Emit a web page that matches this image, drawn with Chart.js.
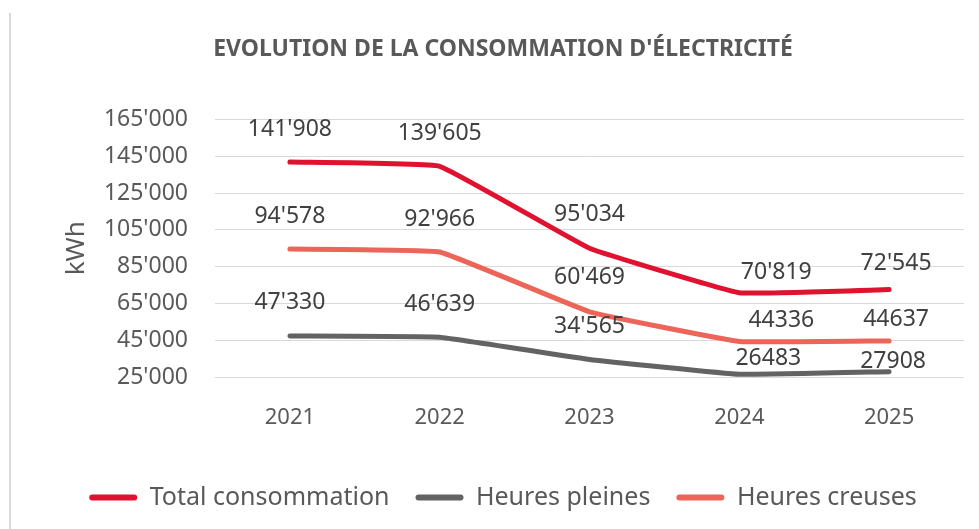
<!DOCTYPE html>
<html>
<head>
<meta charset="utf-8">
<script src="https://cdn.jsdelivr.net/npm/chart.js@4.4.1/dist/chart.umd.min.js"></script>
<style>
  html, body { margin: 0; padding: 0; background: #fff; overflow: hidden; }
  #cadre { position: absolute; left: 9px; top: 13px; width: 2px; height: 530px; background: #d9d9d9; }
  #zone { position: absolute; left: 42px; top: 0; width: 954px; height: 529px; }
</style>
</head>
<body>
<div id="cadre"></div>
<div id="zone"><canvas id="graphe"></canvas></div>
<script>
// donnees
const annees = ['2021', '2022', '2023', '2024', '2025'];
const totalConso = [141908, 139605, 95034, 70819, 72545];
const heuresPleines = [47330, 46639, 34565, 26483, 27908];
const heuresCreuses = [94578, 92966, 60469, 44336, 44637];
const graduations = { min: 25000, max: 165000, pas: 20000 };

const police = "'Noto Sans', 'DejaVu Sans', sans-serif";

function avecApostrophe(v) {
  return String(Math.round(v)).replace(/\B(?=(\d{3})+(?!\d))/g, "'");
}

// etiquettes de donnees (deplacees a la main dans l'original pour 2024-2025)
const etiquettes = {
  id: 'etiquettes',
  afterDatasetsDraw(chart, args, opts) {
    const ctx = chart.ctx;
    ctx.save();
    ctx.font = '23px ' + police;
    ctx.fillStyle = '#404040';
    ctx.textAlign = 'center';
    ctx.textBaseline = 'middle';
    chart.data.datasets.forEach((ds, i) => {
      const meta = chart.getDatasetMeta(i);
      const dec = opts.decalages[i];
      meta.data.forEach((pt, j) => {
        const v = ds.data[j];
        const txt = opts.brut[i].includes(j) ? String(v) : avecApostrophe(v);
        ctx.fillText(txt, pt.x + dec.dx[j], pt.y - dec.dy[j]);
      });
    });
    ctx.restore();
  }
};

const ctx = document.getElementById('graphe');

new Chart(ctx, {
  type: 'line',
  data: {
    labels: annees,
    datasets: [
      { label: 'Total consommation', data: totalConso, borderColor: '#e0122f', backgroundColor: '#e0122f' },
      { label: 'Heures pleines', data: heuresPleines, borderColor: '#636363', backgroundColor: '#636363' },
      { label: 'Heures creuses', data: heuresCreuses, borderColor: '#ec6558', backgroundColor: '#ec6558' }
    ]
  },
  plugins: [etiquettes],
  options: {
    responsive: true,
    maintainAspectRatio: false,
    animation: false,
    layout: { padding: { left: 0, right: 32, top: 0, bottom: 9 } },
    elements: {
      line: { borderWidth: 5, tension: 0.08, borderCapStyle: 'round', borderJoinStyle: 'round' },
      point: { radius: 0, hoverRadius: 0 }
    },
    scales: {
      x: {
        offset: true,
        grid: { display: false, drawTicks: false },
        border: { display: false },
        ticks: { color: '#595959', font: { family: police, size: 22 }, padding: 28 },
        afterFit(scale) { scale.height = 82; }
      },
      y: {
        min: graduations.min,
        max: graduations.max,
        grid: { color: '#d9d9d9', lineWidth: 1, drawTicks: false },
        border: { display: false },
        ticks: {
          stepSize: graduations.pas,
          color: '#595959',
          font: { family: police, size: 23 },
          padding: 27,
          callback: (v) => avecApostrophe(v)
        },
        title: {
          display: true,
          text: 'kWh',
          color: '#595959',
          font: { family: police, size: 26 },
          padding: { top: 19, bottom: 0 }
        },
        afterFit(scale) { scale.width = 173; }
      }
    },
    plugins: {
      title: {
        display: true,
        text: "EVOLUTION DE LA CONSOMMATION D'ÉLECTRICITÉ",
        color: '#595959',
        font: { family: police, size: 23, weight: 'bold' },
        padding: { top: 36, bottom: 56 }
      },
      legend: {
        position: 'bottom',
        labels: {
          color: '#595959',
          font: { family: police, size: 25 },
          boxWidth: 48,
          boxHeight: 6,
          padding: 26,
          useBorderRadius: true,
          borderRadius: 3,
          generateLabels(chart) {
            const items = Chart.defaults.plugins.legend.labels.generateLabels(chart);
            items.forEach(it => { it.lineWidth = 0; });
            return items;
          }
        }
      },
      tooltip: { enabled: false },
      etiquettes: {
        brut: [[], [3, 4], [3, 4]],
        decalages: [
          { dx: [0, 0, 0, 37, 7], dy: [33, 33, 34, 20, 26] },
          { dx: [0, 0, 0, 29, 4], dy: [33, 33, 33, 16, 10] },
          { dx: [0, 0, 0, 42, 7], dy: [33, 33, 34, 21, 21] }
        ]
      }
    }
  }
});
</script>
</body>
</html>
